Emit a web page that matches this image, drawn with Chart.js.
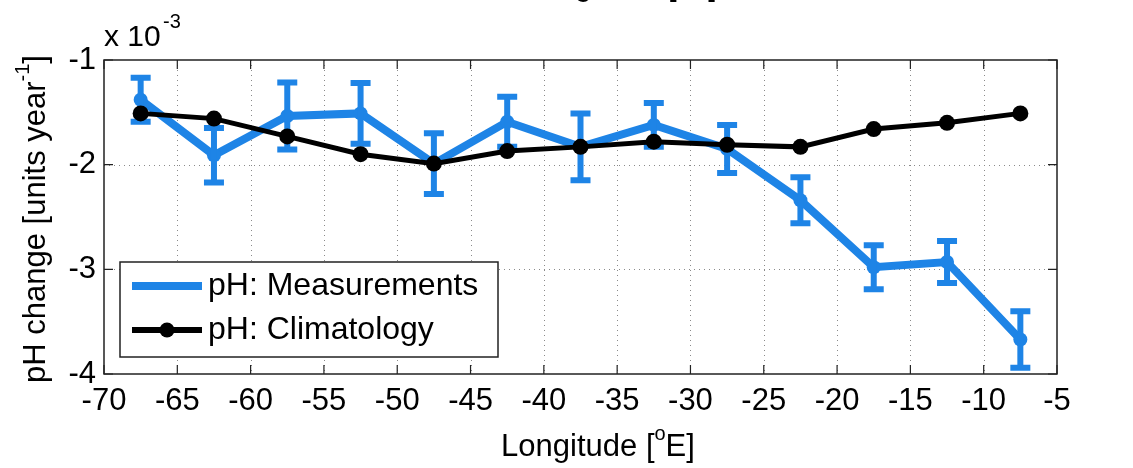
<!DOCTYPE html>
<html>
<head>
<meta charset="utf-8">
<title>pH change vs longitude</title>
<script src="https://cdn.jsdelivr.net/npm/chart.js@4.4.1/dist/chart.umd.min.js"></script>
<style>
  html, body { margin: 0; padding: 0; background: #fff; }
  #wrap { width: 1133px; height: 468px; }
</style>
</head>
<body>
<div id="wrap"><canvas id="phChart" width="1133" height="468"></canvas></div>
<script>
// Datos (en unidades de 1e-3)
const longitudes = [-67.5, -62.5, -57.5, -52.5, -47.5, -42.5, -37.5, -32.5, -27.5, -22.5, -17.5, -12.5, -7.5];
const phMeasured = [-1.38, -1.91, -1.535, -1.51, -1.99, -1.59, -1.83, -1.62, -1.85, -2.34, -2.98, -2.93, -3.67];
const phMeasuredErr = [0.21, 0.26, 0.32, 0.29, 0.29, 0.24, 0.32, 0.21, 0.23, 0.22, 0.21, 0.20, 0.27];
const phClimatology = [-1.51, -1.56, -1.73, -1.90, -1.99, -1.87, -1.83, -1.78, -1.81, -1.83, -1.66, -1.60, -1.51];
const seriesLabels = ['pH: Measurements', 'pH: Climatology'];
const xTicks = [-70, -65, -60, -55, -50, -45, -40, -35, -30, -25, -20, -15, -10, -5];
const yTicks = [-1, -2, -3, -4];

const BLUE = '#1E84E6';
const FONT = '"Liberation Sans", Arial, sans-serif';

// Dibuja barras de error, ejes estilo MATLAB, leyenda y títulos
const matlabPlugin = {
    id: 'matlabPlugin',
    beforeDatasetsDraw(chart) {
        const { ctx, chartArea: a, scales: { x, y } } = chart;
        ctx.save();
        ctx.strokeStyle = '#8a8a8a';
        ctx.lineWidth = 1;
        ctx.setLineDash([1, 4]);
        xTicks.slice(1, -1).forEach(v => {
            const px = Math.round(x.getPixelForValue(v)) + 0.5;
            ctx.beginPath(); ctx.moveTo(px, a.top); ctx.lineTo(px, a.bottom); ctx.stroke();
        });
        yTicks.slice(1, -1).forEach(v => {
            const py = Math.round(y.getPixelForValue(v)) + 0.5;
            ctx.beginPath(); ctx.moveTo(a.left, py); ctx.lineTo(a.right, py); ctx.stroke();
        });
        ctx.restore();
    },
    afterDatasetDraw(chart, args) {
        if (args.index !== 0) return;
        const { ctx, scales: { x, y } } = chart;
        ctx.save();
        ctx.strokeStyle = BLUE;
        ctx.lineWidth = 6;
        ctx.lineCap = 'butt';
        longitudes.forEach((lon, i) => {
            const px = x.getPixelForValue(lon);
            const top = y.getPixelForValue(phMeasured[i] + phMeasuredErr[i]);
            const bot = y.getPixelForValue(phMeasured[i] - phMeasuredErr[i]);
            ctx.beginPath();
            ctx.moveTo(px, top); ctx.lineTo(px, bot);
            ctx.moveTo(px - 10, top); ctx.lineTo(px + 10, top);
            ctx.moveTo(px - 10, bot); ctx.lineTo(px + 10, bot);
            ctx.stroke();
        });
        ctx.restore();
    },
    afterDraw(chart) {
        const { ctx, chartArea: a, scales: { x, y } } = chart;
        ctx.save();
        // Caja y marcas hacia dentro
        ctx.strokeStyle = '#222';
        ctx.lineWidth = 1.5;
        ctx.strokeRect(a.left, a.top, a.right - a.left, a.bottom - a.top);
        ctx.lineWidth = 1.2;
        xTicks.forEach(v => {
            const px = x.getPixelForValue(v);
            ctx.beginPath();
            ctx.moveTo(px, a.bottom); ctx.lineTo(px, a.bottom - 9);
            ctx.moveTo(px, a.top); ctx.lineTo(px, a.top + 9);
            ctx.stroke();
        });
        yTicks.forEach(v => {
            const py = y.getPixelForValue(v);
            ctx.beginPath();
            ctx.moveTo(a.left, py); ctx.lineTo(a.left + 9, py);
            ctx.moveTo(a.right, py); ctx.lineTo(a.right - 9, py);
            ctx.stroke();
        });

        // Leyenda
        const lx = 120, ly = 262, lw = 378, lh = 95;
        ctx.fillStyle = '#fff';
        ctx.fillRect(lx, ly, lw, lh);
        ctx.strokeStyle = '#222';
        ctx.lineWidth = 1.5;
        ctx.strokeRect(lx, ly, lw, lh);
        const rows = [ly + 24, ly + 68];
        ctx.lineWidth = 8;
        ctx.strokeStyle = BLUE;
        ctx.beginPath(); ctx.moveTo(132, rows[0]); ctx.lineTo(202, rows[0]); ctx.stroke();
        ctx.lineWidth = 6;
        ctx.strokeStyle = '#000';
        ctx.beginPath(); ctx.moveTo(132, rows[1]); ctx.lineTo(202, rows[1]); ctx.stroke();
        ctx.fillStyle = '#000';
        ctx.beginPath(); ctx.arc(167, rows[1], 7.5, 0, Math.PI * 2); ctx.fill();
        ctx.font = '32px ' + FONT;
        ctx.textBaseline = 'middle';
        ctx.textAlign = 'left';
        ctx.fillStyle = '#000';
        seriesLabels.forEach((t, i) => ctx.fillText(t, 208, rows[i]));

        // Multiplicador del eje Y
        ctx.font = '30px ' + FONT;
        ctx.fillText('x 10', 104, 38);
        ctx.font = '20px ' + FONT;
        ctx.fillText('-3', 163, 22);

        // Título del eje X
        const drawSupLabel = (parts, cx, cy) => {
            const big = '31px ' + FONT, small = '20px ' + FONT;
            let total = 0;
            parts.forEach(p => { ctx.font = p.sup ? small : big; total += ctx.measureText(p.t).width; });
            let cur = cx - total / 2;
            parts.forEach(p => {
                ctx.font = p.sup ? small : big;
                ctx.fillText(p.t, cur, p.sup ? cy - 13 : cy);
                cur += ctx.measureText(p.t).width;
            });
        };
        ctx.textBaseline = 'middle';
        drawSupLabel([{ t: 'Longitude [' }, { t: 'o', sup: true }, { t: 'E]' }], 598, 447);
        // Título cortado de la figura superior
        drawSupLabel([{ t: 'Longitude [' }, { t: 'o', sup: true }, { t: 'E]' }], 620, -14);

        // Título del eje Y (rotado)
        ctx.translate(36, 219);
        ctx.rotate(-Math.PI / 2);
        drawSupLabel([{ t: 'pH change [units year' }, { t: '-1', sup: true }, { t: ']' }], 0, 0);
        ctx.restore();
    }
};

const ctx = document.getElementById('phChart').getContext('2d');
new Chart(ctx, {
    type: 'line',
    data: {
        datasets: [{
            label: seriesLabels[0],
            data: longitudes.map((lon, i) => ({ x: lon, y: phMeasured[i] })),
            borderColor: BLUE,
            backgroundColor: BLUE,
            borderWidth: 8,
            pointRadius: 7,
            pointBorderWidth: 0,
            order: 1
        }, {
            label: seriesLabels[1],
            data: longitudes.map((lon, i) => ({ x: lon, y: phClimatology[i] })),
            borderColor: '#000',
            backgroundColor: '#000',
            borderWidth: 5,
            pointRadius: 8,
            pointBorderWidth: 0,
            order: 0
        }]
    },
    options: {
        responsive: false,
        animation: false,
        layout: { padding: { top: 60, right: 76, left: 0, bottom: 0 } },
        plugins: {
            legend: { display: false },
            tooltip: { enabled: false }
        },
        scales: {
            x: {
                type: 'linear',
                min: -70,
                max: -5,
                afterBuildTicks: axis => { axis.ticks = xTicks.map(v => ({ value: v })); },
                afterFit: axis => { axis.height = 94; },
                grid: { display: false, drawTicks: false },
                border: { display: false },
                ticks: { color: '#000', font: { size: 31, family: FONT }, padding: 9, maxRotation: 0, autoSkip: false }
            },
            y: {
                type: 'linear',
                min: -4,
                max: -1,
                afterBuildTicks: axis => { axis.ticks = yTicks.map(v => ({ value: v })); },
                afterFit: axis => { axis.width = 104; },
                grid: { display: false, drawTicks: false },
                border: { display: false },
                ticks: { color: '#000', font: { size: 31, family: FONT }, padding: 8 }
            }
        }
    },
    plugins: [matlabPlugin]
});
</script>
</body>
</html>
